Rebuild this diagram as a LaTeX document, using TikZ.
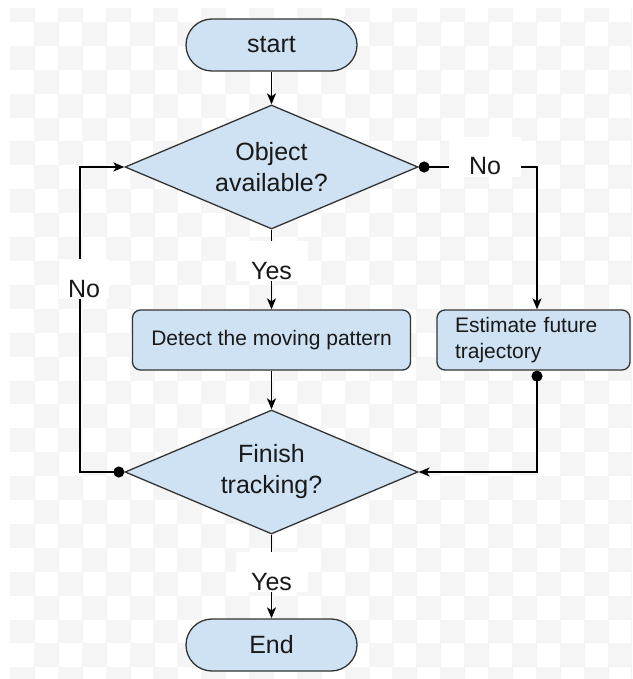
\documentclass[tikz,border=0pt]{standalone}
\usepackage{fontspec}
\setmainfont{Liberation Sans}
\usetikzlibrary{shapes.geometric,arrows.meta}
\definecolor{boxfill}{RGB}{207,226,243}
\definecolor{boxdraw}{RGB}{51,51,51}
\definecolor{txt}{RGB}{25,25,25}
\definecolor{checker}{RGB}{245,245,245}
\tikzset{
  base/.style={draw=boxdraw, fill=boxfill, line width=1.3pt, text=txt, font=\fontsize{25}{31}\selectfont, align=center, inner sep=0pt},
  terminal/.style={base, rectangle, rounded corners=26pt, minimum width=171pt, minimum height=52pt},
  decision/.style={base, diamond, aspect=2.36, minimum width=293pt, minimum height=124pt},
  process/.style={base, rectangle, rounded corners=8pt, minimum height=60pt, font=\fontsize{21}{26}\selectfont},
  conn/.style={draw=black, line width=1.6pt, -{Stealth[length=11pt,width=9pt,inset=3pt]}},
  dotconn/.style={draw=black, line width=1.6pt, {Circle[length=11pt]}-{Stealth[length=11pt,width=9pt,inset=3pt]}},
  lbl/.style={fill=white, anchor=base, text=txt, font=\fontsize{25}{30}\selectfont, text height=38pt, text depth=2pt, inner ysep=0pt, inner xsep=0pt, minimum width=72pt}
}
\begin{document}
\begin{tikzpicture}[x=1pt,y=-1pt]
\useasboundingbox (0,0) rectangle (632,679);
\fill[white] (0,0) rectangle (632,679);
% checkerboard background
\begin{scope}
\clip (10,9) rectangle (632,679);
\foreach \j in {0,...,26}{
  \foreach \m in {0,...,28}{
    \pgfmathtruncatemacro\p{mod(\j+\m,2)}
    \ifnum\p=0
      \fill[checker] ({10+23.9*\j},{-1.9+23.9*\m}) rectangle ({35+23.9*\j},{22+23.9*\m});
    \fi
  }
}
\end{scope}

% nodes
\node[terminal] (start) at (271.5,45) {start};
\node[decision] (dec1) at (271.5,167) {Object\\available?};
\node[process, minimum width=278pt] (detect) at (271.5,340) {Detect the moving pattern};
\node[process, text width=157pt, inner xsep=18pt, align=left] (est) at (533.5,340) {Estimate future\\trajectory};
\node[decision] (dec2) at (271.5,472) {Finish\\tracking?};
\node[terminal] (end) at (271.5,645) {End};

% helper coordinates
\coordinate (rc) at (537,167);
\coordinate (rb) at (537,472);
\coordinate (lt) at (80,167);
\coordinate (lb) at (80,472);

% connectors
\draw[conn] (start) -- (dec1);
\draw[conn] (dec1) -- (detect);
\draw[conn] (detect) -- (dec2);
\draw[conn] (dec2) -- (end);
\draw[dotconn] (dec1.east) -- (rc) -- (rc |- est.north);
\draw[dotconn] (est.south -| rc) -- (rb) -- (dec2.east);
\draw[dotconn] (dec2.west) -- (lb) -- (lt) -- (dec1.west);

% labels
\node[lbl] (yes1) at (271.5,279) {Yes};
\node[lbl] (yes2) at (271.5,590) {Yes};
\node[lbl] (no1) at (485,175) {No};
\node[lbl, minimum width=50pt] (no2) at (84,297) {No};
\end{tikzpicture}
\end{document}
